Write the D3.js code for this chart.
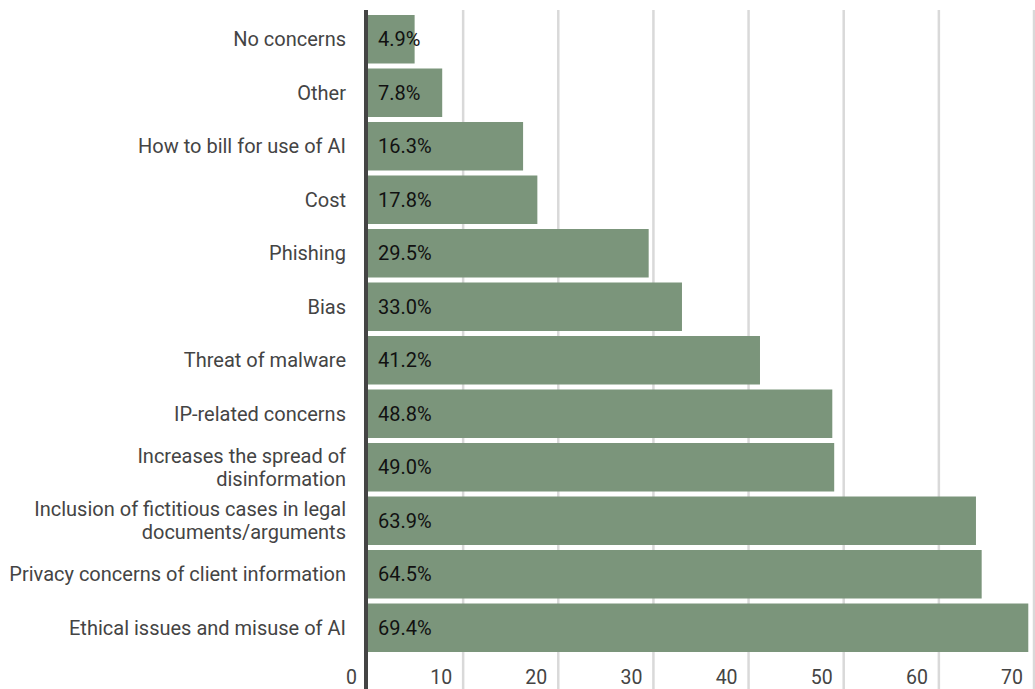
<!DOCTYPE html>
<html>
<head>
<meta charset="utf-8">
<script src="https://cdn.jsdelivr.net/npm/d3@7"></script>
<style>
  html, body { margin: 0; padding: 0; background: #fff; }
  svg { display: block; }
</style>
</head>
<body>
<svg id="chart" width="1035" height="689"></svg>
<script>
const categories = [
  ["No concerns"],
  ["Other"],
  ["How to bill for use of AI"],
  ["Cost"],
  ["Phishing"],
  ["Bias"],
  ["Threat of malware"],
  ["IP-related concerns"],
  ["Increases the spread of", "disinformation"],
  ["Inclusion of fictitious cases in legal", "documents/arguments"],
  ["Privacy concerns of client information"],
  ["Ethical issues and misuse of AI"]
];
const values = [4.9, 7.8, 16.3, 17.8, 29.5, 33.0, 41.2, 48.8, 49.0, 63.9, 64.5, 69.4];
const tickValues = [0, 10, 20, 30, 40, 50, 60, 70];

const svg = d3.select("#chart");
const W = 1035, H = 689;
const font = "Roboto, 'Noto Sans', sans-serif";

const x = d3.scaleLinear().domain([0, 70]).range([368, 1034]);
const y = d3.scaleBand()
  .domain(d3.range(categories.length))
  .range([12.5, 654.5])
  .paddingInner(0.0935)
  .paddingOuter(0.0467);

// gridlines
svg.append("g").selectAll("line")
  .data(tickValues.filter(d => d > 0))
  .join("line")
  .attr("x1", d => x(d)).attr("x2", d => x(d))
  .attr("y1", 10).attr("y2", H)
  .attr("stroke", "#d9d9d9")
  .attr("stroke-width", 2.5);

// bars
svg.append("g").selectAll("rect")
  .data(values)
  .join("rect")
  .attr("x", x(0) - 2)
  .attr("y", (d, i) => y(i))
  .attr("width", d => x(d) - x(0) + 2)
  .attr("height", y.bandwidth())
  .attr("fill", "#7b957b");

// value labels
svg.append("g").selectAll("text")
  .data(values)
  .join("text")
  .attr("x", x(0) + 10)
  .attr("y", (d, i) => y(i) + y.bandwidth() / 2)
  .attr("dy", "0.36em")
  .attr("font-family", font)
  .attr("font-size", 20)
  .attr("fill", "#111")
  .text(d => d.toFixed(1) + "%");

// category labels
const cat = svg.append("g").selectAll("text")
  .data(categories)
  .join("text")
  .attr("text-anchor", "end")
  .attr("font-family", font)
  .attr("font-size", 20)
  .attr("fill", "#444");
cat.each(function(lines, i) {
  const t = d3.select(this);
  const cy = y(i) + y.bandwidth() / 2;
  const lh = 23;
  lines.forEach((ln, k) => {
    t.append("tspan")
      .attr("x", 346)
      .attr("y", cy + (k - (lines.length - 1) / 2) * lh)
      .attr("dy", "0.36em")
      .text(ln);
  });
});

// x axis tick labels
svg.append("g").selectAll("text")
  .data(tickValues)
  .join("text")
  .attr("x", d => x(d) - 11)
  .attr("y", 683.5)
  .attr("text-anchor", "end")
  .attr("font-family", font)
  .attr("font-size", 19.5)
  .attr("fill", "#444")
  .text(d => d);

// zero axis line
svg.append("line")
  .attr("x1", x(0) - 2).attr("x2", x(0) - 2)
  .attr("y1", 10).attr("y2", H)
  .attr("stroke", "#444")
  .attr("stroke-width", 4);
</script>
</body>
</html>
